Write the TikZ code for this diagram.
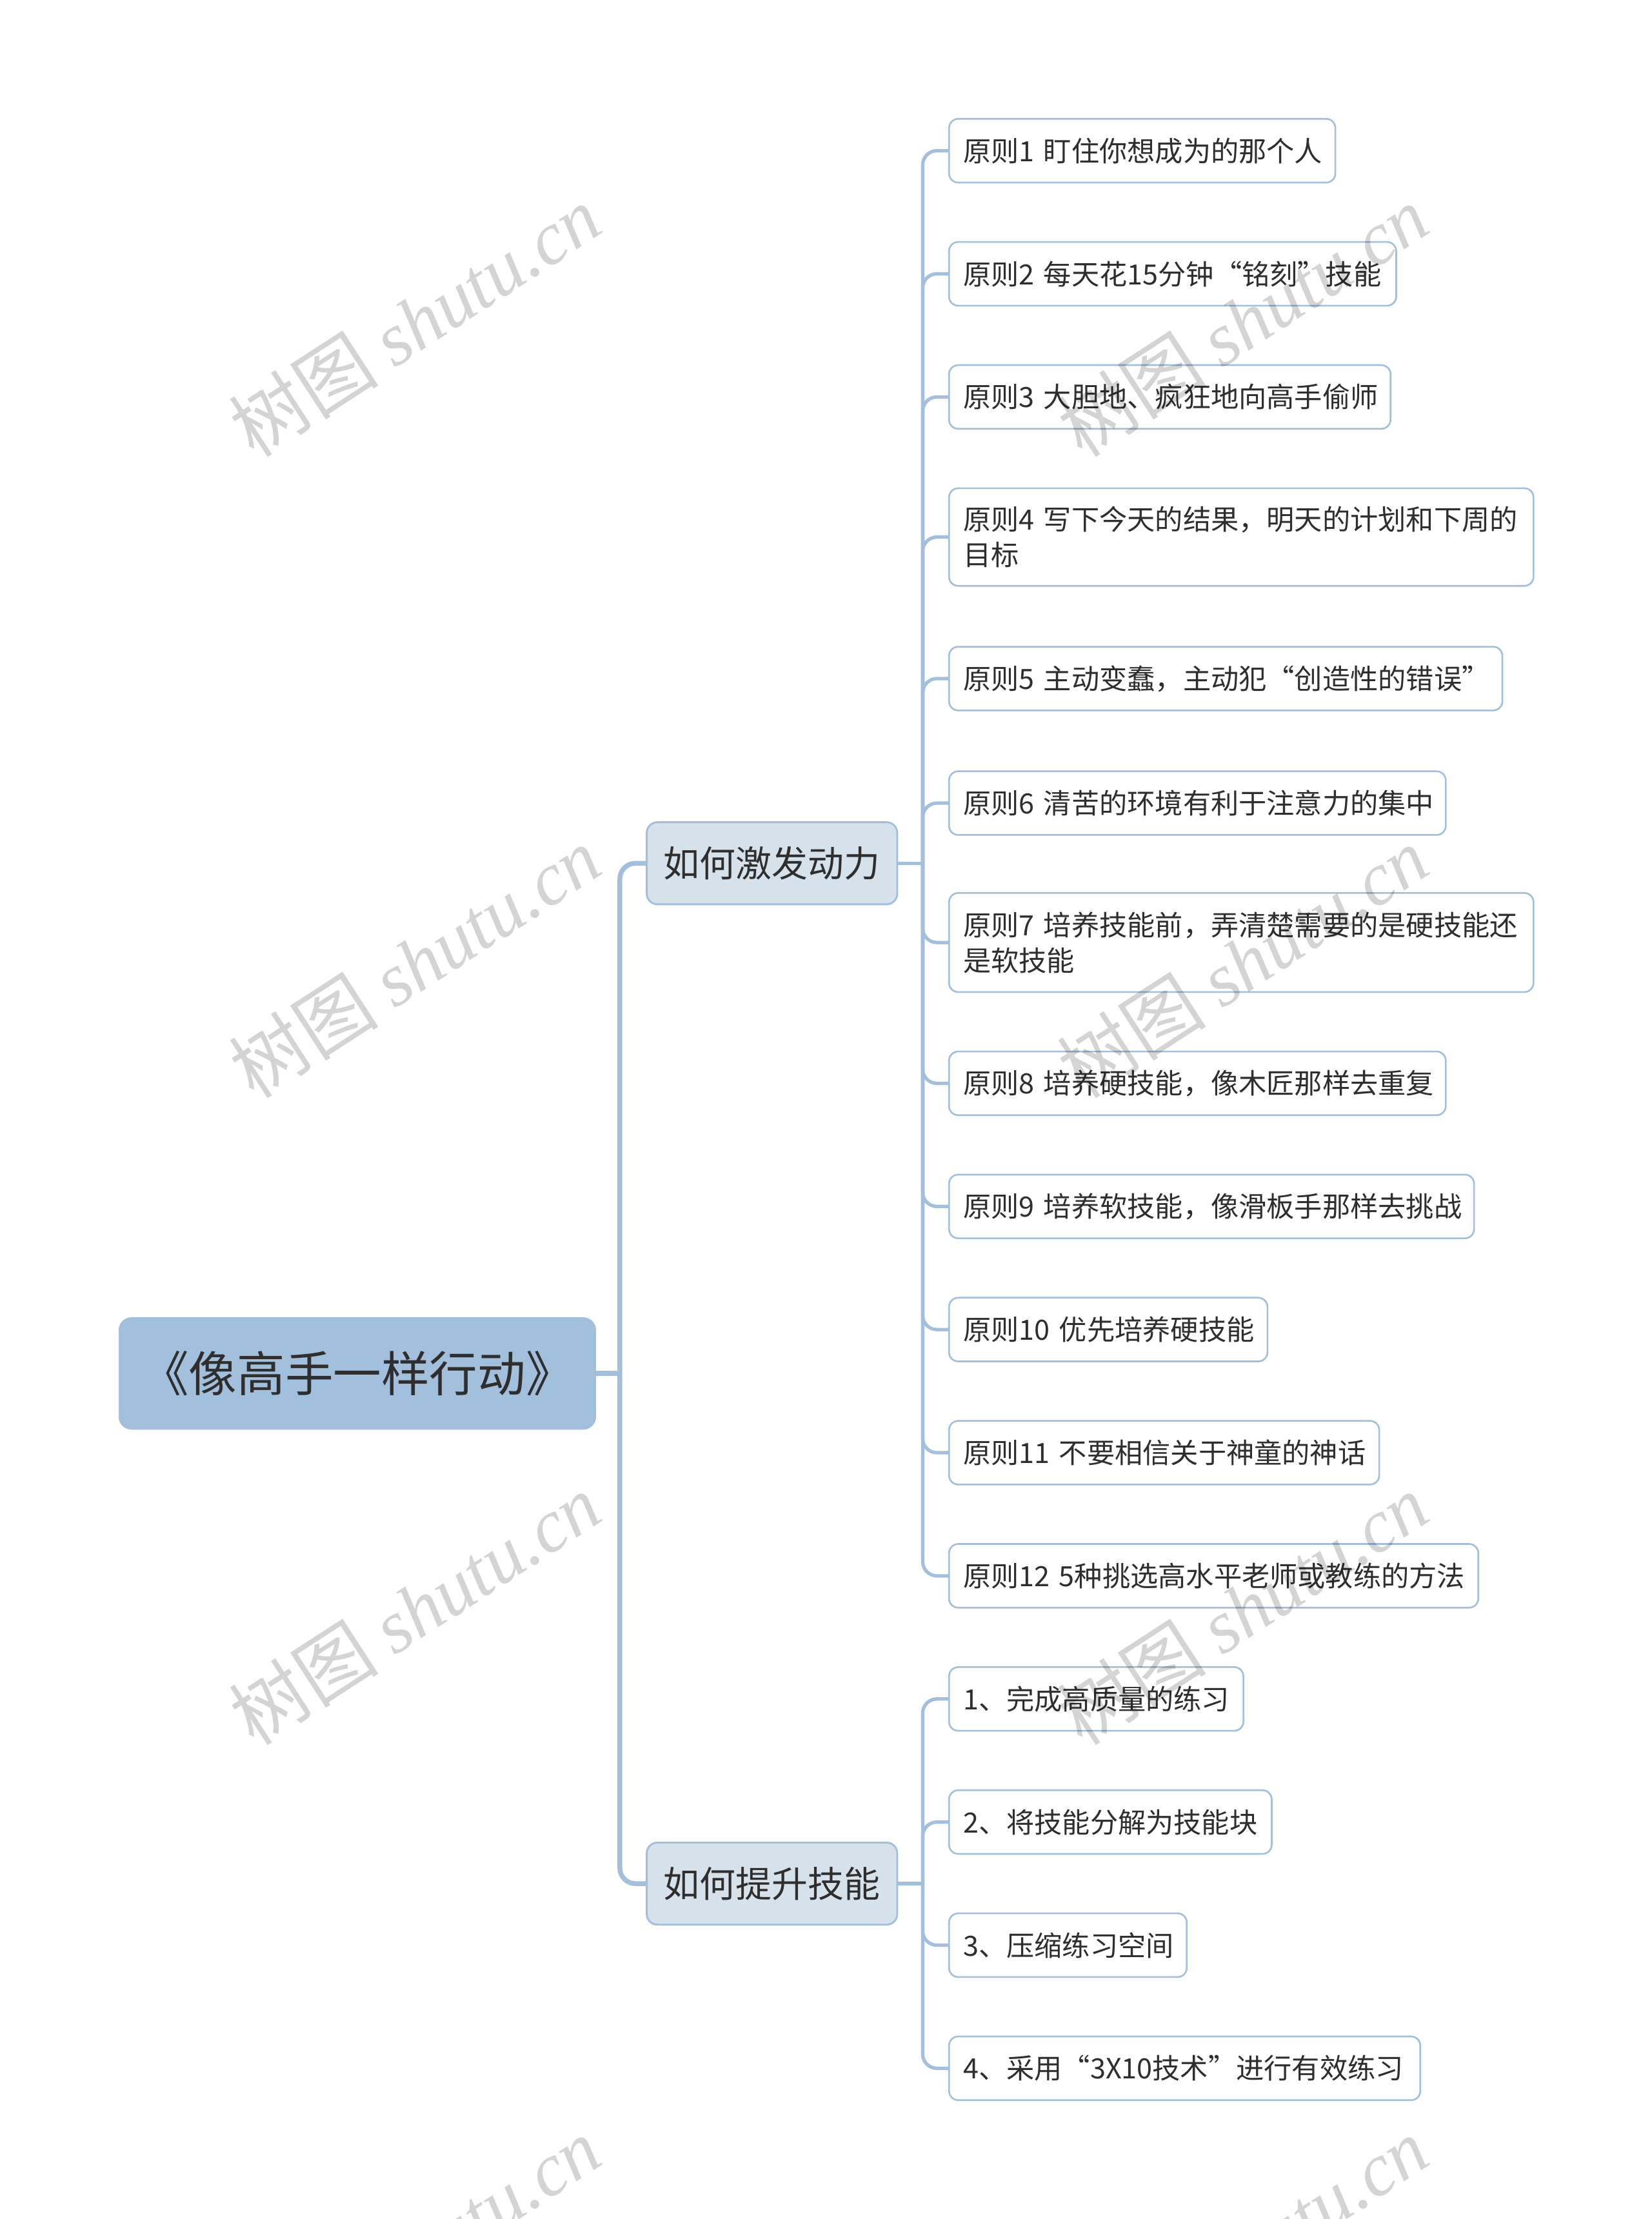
\documentclass[tikz,border=0pt]{standalone}
\usepackage{fontspec}
\setmainfont{Noto Sans CJK SC}
\newfontfamily\wmlatin{Liberation Serif}
\newfontfamily\wmcjk{Noto Sans CJK SC}
\definecolor{linec}{HTML}{A3BFDB}
\definecolor{rootc}{HTML}{A2BFDB}
\definecolor{branchc}{HTML}{D5E1EB}
\definecolor{txt}{HTML}{2E2E2E}
\tikzset{
  conn/.style={draw=linec, line width=3.4pt},
  subconn/.style={draw=linec, line width=2.4pt},
  rootbox/.style={fill=rootc, draw=rootc, rounded corners=9pt, minimum width=337pt, minimum height=79pt, inner sep=0pt, font=\fontsize{34}{38}\selectfont, text=txt},
  branchbox/.style={fill=branchc, draw=linec, line width=1.3pt, rounded corners=7.5pt, minimum width=177pt, minimum height=58pt, inner sep=0pt, font=\fontsize{25.5}{30}\selectfont, text=txt},
  leafbox/.style={fill=white, draw=linec, line width=1.2pt, rounded corners=6.5pt, anchor=west, align=left, inner xsep=10pt, inner ysep=0pt, minimum height=45pt, font=\fontsize{19.7}{25}\selectfont, text=txt},
  wm/.style={text=black, opacity=0.17, rotate=33, font=\fontsize{53}{56}\selectfont},
}
\begin{document}
\begin{tikzpicture}[x=1pt,y=-1pt]
\clip (0,0) rectangle (1167,1568);
\fill[white] (0,0) rectangle (1167,1568);

% root and branches
\node[rootbox] (root) at (252.5,970.5) {《像高手一样行动》};
\node[branchbox] (b1) at (545.5,610) {如何激发动力};
\node[branchbox] (b2) at (545.5,1331) {如何提升技能};

% leaves of branch 1
\node[leafbox, text width=253pt] (l1) at (670,106.5) {原则1~盯住你想成为的那个人};
\node[leafbox, text width=296pt] (l2) at (670,193.5) {原则2~每天花15分钟“铭刻”技能};
\node[leafbox, text width=292pt] (l3) at (670,280.5) {原则3~大胆地、疯狂地向高手偷师};
\node[leafbox, text width=393pt, minimum height=69pt] (l4) at (670,379.5) {原则4~写下今天的结果，明天的计划和下周的\\目标};
\node[leafbox, text width=371pt] (l5) at (670,479.5) {原则5~主动变蠢，主动犯“创造性的错误”};
\node[leafbox, text width=331pt] (l6) at (670,567.5) {原则6~清苦的环境有利于注意力的集中};
\node[leafbox, text width=393pt, minimum height=70pt] (l7) at (670,666) {原则7~培养技能前，弄清楚需要的是硬技能还\\是软技能};
\node[leafbox, text width=331pt] (l8) at (670,765.5) {原则8~培养硬技能，像木匠那样去重复};
\node[leafbox, text width=351pt] (l9) at (670,852.5) {原则9~培养软技能，像滑板手那样去挑战};
\node[leafbox, text width=205pt] (l10) at (670,939.5) {原则10~优先培养硬技能};
\node[leafbox, text width=284pt] (l11) at (670,1026.5) {原则11~不要相信关于神童的神话};
\node[leafbox, text width=354pt] (l12) at (670,1113.5) {原则12~5种挑选高水平老师或教练的方法};

% leaves of branch 2
\node[leafbox, text width=188pt] (s1) at (670,1200.5) {1、完成高质量的练习};
\node[leafbox, text width=208pt] (s2) at (670,1287.5) {2、将技能分解为技能块};
\node[leafbox, text width=148pt] (s3) at (670,1374.5) {3、压缩练习空间};
\node[leafbox, text width=313pt] (s4) at (670,1461.5) {4、采用“3X10技术”进行有效练习};

% connectors
\coordinate (j0) at (438,970.5);
\draw[conn] (root.east) -- (j0);
\draw[conn, rounded corners=11pt] (j0) |- (b1.west);
\draw[conn, rounded corners=11pt] (j0) |- (b2.west);

\coordinate (j1) at (652,610);
\draw[subconn] (b1.east) -- (j1);
\foreach \n in {l1,l2,l3,l4,l5,l6,l7,l8,l9,l10,l11,l12}
  \draw[subconn, rounded corners=10pt] (j1) |- (\n.west);

\coordinate (j2) at (652,1331);
\draw[subconn] (b2.east) -- (j2);
\foreach \n in {s1,s2,s3,s4}
  \draw[subconn, rounded corners=10pt] (j2) |- (\n.west);

% watermarks
\foreach \wx/\wy/\k in {293/227/1,293/680/2,293/1137/3,293/1592/4,878/227/5,878/680/6,878/1137/7,878/1592/8}
  \node[wm] (wm\k) at (\wx,\wy) {{\wmcjk 树图}~{\wmlatin\itshape shutu.cn}};
\end{tikzpicture}
\end{document}
